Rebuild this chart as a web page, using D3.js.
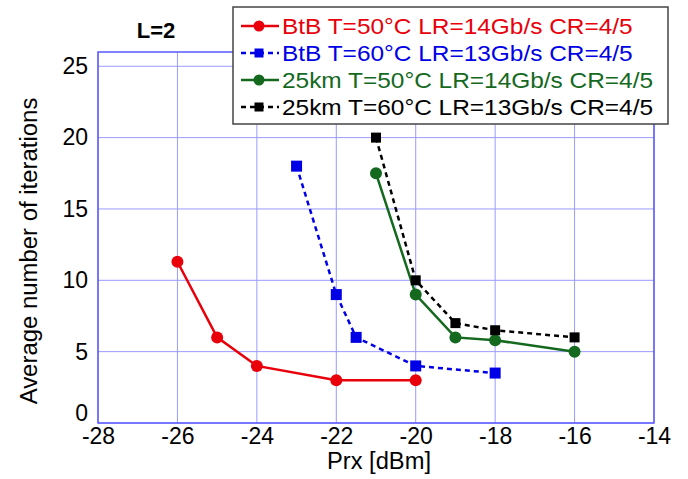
<!DOCTYPE html>
<html><head><meta charset="utf-8">
<script src="https://cdn.jsdelivr.net/npm/d3@7"></script>
<style>body{margin:0;background:#fff;} text{font-family:"Liberation Sans",Arial,sans-serif;}</style>
</head><body>
<svg id="c" width="688" height="479"></svg>
<script>
const xTicks = [-28,-26,-24,-22,-20,-18,-16,-14];
const yTicks = [0,5,10,15,20,25];
const seriesNames = ["BtB T=50°C LR=14Gb/s CR=4/5","BtB T=60°C LR=13Gb/s CR=4/5","25km T=50°C LR=14Gb/s CR=4/5","25km T=60°C LR=13Gb/s CR=4/5"];
const redX = [-26,-25,-24,-22,-20];
const redY = [11.3,6,4,3,3];
const blueX = [-23,-22,-21.5,-20,-18];
const blueY = [18,9,6,4,3.5];
const greenX = [-21,-20,-19,-18,-16];
const greenY = [17.5,9,6,5.8,5];
const blackX = [-21,-20,-19,-18,-16];
const blackY = [20,10,7,6.5,6];

const svg = d3.select("#c");
const L=98,R=654,T=52,B=423;
const x = d3.scaleLinear().domain([-28,-14]).range([L,R]);
const y = d3.scaleLinear().domain([0,26]).range([B,T]);
const gridC="#9a9aff", axisC="#5a5aff";

function stretch(sel, k){
  sel.each(function(){
    const w = this.getComputedTextLength();
    d3.select(this).attr("textLength", w*k).attr("lengthAdjust","spacingAndGlyphs");
  });
}

// grid
svg.append("g").selectAll("line").data(xTicks).join("line")
  .attr("x1",d=>x(d)).attr("x2",d=>x(d)).attr("y1",T).attr("y2",B)
  .attr("stroke",gridC).attr("stroke-width",1);
svg.append("g").selectAll("line").data(yTicks).join("line")
  .attr("x1",L).attr("x2",R).attr("y1",d=>y(d)).attr("y2",d=>y(d))
  .attr("stroke",gridC).attr("stroke-width",1);
svg.append("rect").attr("x",L).attr("y",T).attr("width",R-L).attr("height",B-T)
  .attr("fill","none").attr("stroke",axisC).attr("stroke-width",1.5);

// axes labels
const xa = svg.append("g").attr("transform",`translate(0,${B})`)
  .call(d3.axisBottom(x).tickValues(xTicks).tickSize(0).tickPadding(5).tickFormat(d=>d));
xa.select(".domain").remove();
xa.selectAll("text").attr("font-size",23).attr("fill","#000").attr("font-family","Liberation Sans, Arial");
const ya = svg.append("g").attr("transform",`translate(${L},0)`)
  .call(d3.axisLeft(y).tickValues(yTicks).tickSize(0).tickPadding(10).tickFormat(d=>d));
ya.select(".domain").remove();
ya.selectAll("text").attr("font-size",23).attr("fill","#000").attr("font-family","Liberation Sans, Arial")
  .attr("dy",d=>d===0?"-0.12em":"0.32em");

svg.append("text").attr("x",379).attr("y",469).attr("text-anchor","middle")
  .attr("font-size",23).text("Prx [dBm]").call(stretch,1.03);
svg.append("text").attr("transform",`translate(37,251) rotate(-90)`).attr("text-anchor","middle")
  .attr("font-size",23).text("Average number of iterations").call(stretch,1.04);
svg.append("text").attr("x",156).attr("y",38).attr("text-anchor","middle")
  .attr("font-size",22).attr("font-weight","bold").text("L=2");

// series
const series = [
  {xs:redX, ys:redY, color:"#e8000b", dash:null, marker:"circle"},
  {xs:blueX, ys:blueY, color:"#0000e6", dash:"5,4", marker:"square"},
  {xs:greenX, ys:greenY, color:"#14691e", dash:null, marker:"circle"},
  {xs:blackX, ys:blackY, color:"#000", dash:"5,4", marker:"square"}
];
const line = d3.line().x(d=>x(d[0])).y(d=>y(d[1]));
series.forEach(s=>{
  const pts = s.xs.map((v,i)=>[v,s.ys[i]]);
  svg.append("path").attr("d",line(pts)).attr("fill","none").attr("stroke",s.color)
    .attr("stroke-width",2.5).attr("stroke-dasharray",s.dash);
  const g = svg.append("g");
  if(s.marker==="circle"){
    g.selectAll("circle").data(pts).join("circle").attr("cx",d=>x(d[0])).attr("cy",d=>y(d[1]))
      .attr("r",6).attr("fill",s.color);
  } else {
    const sz = s.color==="#000"?10:11;
    g.selectAll("rect").data(pts).join("rect").attr("x",d=>x(d[0])-sz/2).attr("y",d=>y(d[1])-sz/2)
      .attr("width",sz).attr("height",sz).attr("fill",s.color);
  }
});

// legend
const lg = svg.append("g");
lg.append("rect").attr("x",233).attr("y",7).attr("width",435).attr("height",117)
  .attr("fill","#fff").attr("stroke","#444").attr("stroke-width",1.5);
seriesNames.forEach((n,i)=>{
  const s = series[i], base = 34+i*27, cy = base-8;
  lg.append("line").attr("x1",241).attr("x2",279).attr("y1",cy).attr("y2",cy)
    .attr("stroke",s.color).attr("stroke-width",2.5).attr("stroke-dasharray",s.dash);
  if(s.marker==="circle") lg.append("circle").attr("cx",259).attr("cy",cy).attr("r",5.5).attr("fill",s.color);
  else lg.append("rect").attr("x",254.5).attr("y",cy-4.5).attr("width",9).attr("height",9).attr("fill",s.color);
  lg.append("text").attr("x",282).attr("y",base).attr("font-size",22).attr("fill",s.color).text(n)
    .call(stretch,1.11);
});
</script>
</body></html>
